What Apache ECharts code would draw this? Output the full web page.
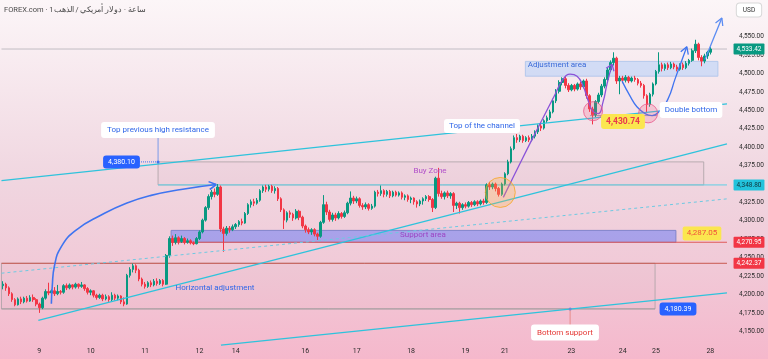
<!DOCTYPE html>
<html><head><meta charset="utf-8">
<script src="https://cdn.jsdelivr.net/npm/echarts@6/dist/echarts.min.js"></script>
<style>
html,body{margin:0;padding:0;}
#c{width:768px;height:359px;background:linear-gradient(to bottom,#fcf6f8 0%,#f6e6ec 25%,#f0d6e0 50%,#f1c9d7 75%,#f5b8cc 100%);}
</style>
</head><body><div id="c"></div>
<script>
// ---- data ----
const dayLabels = ['9','10','11','12','14','16','17','18','19','21','23','24','25','28'];
const dayLabelIdx = [12,29,47,65,77,100,117,135,153,166,188,205,216,234];
const slotCount = 240;
// [open, close, low, high]
const candles = [
[4212,4214,4207,4218],[4214,4209,4205,4216],[4209,4201,4198,4211],[4201,4193,4190,4203],[4193,4186,4184,4195],
[4186,4194,4185,4196],[4194,4190,4187,4197],[4190,4195,4188,4197],[4195,4191,4189,4198],[4191,4196,4190,4199],
[4196,4193,4190,4200],[4193,4187,4184,4195],[4187,4182,4175,4189],[4182,4195,4180,4197],[4195,4204,4193,4207],
[4204,4202,4199,4216],[4202,4205,4199,4207],[4205,4201,4198,4210],[4201,4204,4199,4213],[4204,4203,4200,4206],
[4203,4212,4201,4214],[4212,4209,4206,4215],[4209,4213,4207,4215],[4213,4210,4207,4214],[4210,4214,4208,4216],
[4214,4211,4208,4215],[4211,4213,4209,4217],[4213,4208,4205,4214],[4208,4203,4200,4210],[4203,4205,4199,4207],
[4205,4199,4196,4206],[4199,4196,4193,4201],[4196,4199,4194,4201],[4199,4194,4191,4201],[4194,4197,4192,4200],
[4197,4193,4190,4199],[4193,4199,4191,4203],[4199,4195,4192,4201],[4195,4198,4192,4200],[4198,4190,4187,4199],
[4190,4187,4184,4196],[4187,4226,4186,4228],[4226,4234,4223,4237],[4234,4239,4230,4242],[4239,4233,4229,4241],
[4233,4221,4218,4235],[4221,4214,4211,4223],[4214,4211,4208,4217],[4211,4216,4209,4218],[4216,4213,4210,4219],
[4213,4218,4211,4221],[4218,4215,4212,4222],[4215,4219,4213,4221],[4219,4214,4211,4221],[4214,4253,4213,4255],
[4253,4276,4250,4279],[4276,4271,4266,4280],[4271,4277,4268,4282],[4277,4272,4268,4279],[4272,4276,4270,4280],
[4276,4271,4268,4278],[4271,4273,4269,4276],[4273,4270,4268,4275],[4270,4269,4267,4272],[4269,4276,4268,4278],
[4276,4285,4274,4287],[4285,4301,4283,4303],[4301,4318,4299,4320],[4318,4333,4315,4336],[4333,4339,4329,4342],
[4339,4336,4332,4344],[4336,4346,4334,4350],[4346,4289,4285,4348],[4289,4283,4258,4292],[4283,4290,4280,4293],
[4290,4288,4284,4293],[4288,4292,4286,4295],[4292,4295,4289,4297],[4295,4299,4292,4301],[4299,4297,4294,4303],
[4297,4310,4296,4312],[4310,4322,4308,4324],[4322,4326,4318,4329],[4326,4324,4320,4330],[4324,4328,4322,4331],
[4328,4341,4326,4343],[4341,4346,4338,4348],[4346,4343,4339,4349],[4343,4347,4340,4349],[4347,4341,4338,4349],
[4341,4344,4337,4347],[4344,4330,4327,4346],[4330,4315,4312,4332],[4315,4301,4289,4317],[4301,4311,4298,4313],
[4311,4309,4304,4314],[4309,4304,4300,4311],[4304,4313,4302,4316],[4313,4305,4301,4315],[4305,4293,4290,4307],
[4293,4288,4284,4295],[4288,4285,4282,4291],[4285,4288,4281,4290],[4288,4282,4279,4290],[4282,4279,4274,4284],
[4279,4298,4277,4300],[4298,4322,4296,4335],[4322,4312,4308,4326],[4312,4302,4299,4315],[4302,4308,4299,4311],
[4308,4304,4300,4311],[4304,4310,4302,4313],[4310,4306,4303,4312],[4306,4311,4304,4314],[4311,4324,4309,4326],
[4324,4331,4321,4340],[4331,4327,4323,4334],[4327,4330,4324,4333],[4330,4321,4318,4332],[4321,4319,4315,4324],
[4319,4322,4316,4325],[4322,4317,4314,4324],[4317,4320,4315,4323],[4320,4339,4318,4341],[4339,4337,4333,4342],
[4337,4341,4334,4348],[4341,4336,4332,4343],[4336,4340,4333,4342],[4340,4334,4331,4342],[4334,4339,4332,4341],
[4339,4335,4333,4341],[4335,4338,4333,4340],[4338,4332,4329,4340],[4332,4334,4328,4336],[4334,4329,4326,4336],
[4329,4331,4324,4333],[4331,4326,4322,4332],[4326,4323,4318,4328],[4323,4327,4320,4329],[4327,4330,4322,4332],
[4330,4333,4327,4335],[4333,4329,4326,4335],[4329,4318,4312,4331],[4318,4358,4316,4360],[4358,4337,4333,4372],
[4337,4333,4330,4341],[4333,4338,4329,4340],[4338,4334,4331,4341],[4334,4337,4330,4339],[4337,4321,4312,4339],
[4321,4324,4316,4326],[4324,4318,4310,4326],[4318,4322,4315,4324],[4322,4320,4317,4325],[4320,4325,4318,4327],
[4325,4322,4319,4327],[4322,4326,4320,4328],[4326,4323,4320,4328],[4323,4327,4321,4329],[4327,4325,4322,4330],
[4325,4349,4323,4351],[4349,4346,4342,4353],[4346,4350,4343,4352],[4350,4344,4340,4352],[4344,4336,4333,4346],
[4336,4350,4334,4352],[4350,4364,4348,4366],[4364,4380,4362,4383],[4380,4398,4378,4401],[4398,4413,4396,4416],
[4413,4410,4406,4418],[4410,4415,4407,4417],[4415,4409,4406,4417],[4409,4413,4407,4415],[4413,4410,4407,4416],
[4410,4415,4408,4418],[4415,4421,4412,4423],[4421,4429,4418,4431],[4429,4426,4422,4433],[4426,4436,4424,4438],
[4436,4440,4433,4443],[4440,4448,4437,4451],[4448,4463,4446,4466],[4463,4476,4460,4479],[4476,4488,4473,4491],
[4488,4493,4484,4495],[4493,4484,4480,4496],[4484,4478,4475,4487],[4478,4484,4476,4486],[4484,4479,4476,4486],
[4479,4486,4477,4488],[4486,4482,4478,4489],[4482,4490,4480,4492],[4490,4470,4466,4493],[4470,4452,4448,4472],
[4452,4444,4431,4455],[4444,4462,4441,4464],[4462,4471,4459,4474],[4471,4483,4468,4486],[4483,4492,4480,4495],
[4492,4505,4489,4508],[4505,4515,4502,4518],[4515,4521,4511,4529],[4521,4490,4486,4523],[4490,4494,4472,4497],
[4494,4491,4487,4497],[4491,4495,4488,4498],[4495,4490,4487,4497],[4490,4494,4488,4496],[4494,4492,4489,4497],
[4492,4487,4484,4494],[4487,4484,4481,4490],[4484,4470,4466,4486],[4470,4458,4447,4472],[4458,4472,4455,4474],
[4472,4486,4469,4488],[4486,4503,4484,4505],[4503,4512,4500,4529],[4512,4507,4503,4515],[4507,4512,4504,4514],
[4512,4508,4505,4515],[4508,4513,4506,4516],[4513,4509,4506,4515],[4509,4506,4503,4512],[4506,4512,4504,4514],
[4512,4508,4505,4515],[4508,4514,4506,4517],[4514,4518,4511,4520],[4518,4531,4516,4534],[4531,4540,4528,4546],
[4540,4522,4518,4542],[4522,4517,4510,4525],[4517,4524,4514,4527],[4524,4529,4520,4531],[4529,4533.42,4526,4536]
];
const priceMin = 4125, priceMax = 4600, priceStep = 25;
// key levels
const lastPrice = 4533.42;
const resistanceTop = 4380.10, resistanceBottom = 4348.80;
const supportTop = 4287.05, supportBottom = 4270.95;
const rangeTop = 4242.37, rangeBottom = 4180.39;
const adjustTop = 4516.6, adjustBottom = 4496.5;
const bottomLow = 4430.74;
// drawn lines in [slot, price]
const channelUpper = [[0,4354.7],[240,4459.0]];
const channelMid = [[12.2,4164.7],[240,4404.7]];
const channelLow = [[72.6,4131.3],[240,4202.2]];
const channelDashed = [[0,4228.9],[240,4329.9]];
const arcBlue1 = [[16.5,4187.5],[16.8,4211.5],[17.5,4238.3],[19.8,4265.1],[24.8,4287.8],[33.0,4307.9],[41.3,4323.9],[49.5,4334.6],[59.4,4342.6],[71.0,4349.3]];
const arcBlue1Head = [[68.9,4342.6],[71.0,4349.3],[68.5,4353.3]];
const arcPurple = [[166.0,4331.9],[171.6,4378.7],[178.2,4432.3],[183.2,4472.4],[185.8,4492.5],[188.1,4499.2],[190.4,4496.5],[192.4,4483.1],[194.1,4463.0],[195.7,4448.3],[197.4,4445.7],[199.0,4461.7],[200.3,4485.8],[202.0,4512.5]];
const arcPurpleHead = [[200.0,4507.2],[202.0,4512.5],[202.6,4503.2]];
const arcBlue2 = [[205.3,4489.8],[207.9,4469.7],[210.2,4455.0],[212.9,4445.7],[215.2,4443.0],[217.8,4449.7],[220.5,4465.7],[222.8,4492.5],[224.8,4515.2],[226.7,4536.6]];
const arcBlue2Head = [[224.7,4529.7],[226.7,4536.6],[227.2,4525.9]];
const arrowUp = [[232.7,4519.2],[238.3,4575.4]];
const arrowUpHead = [[236.2,4568.7],[238.3,4575.4],[238.6,4564.7]];
const orangeCircle = [[165.0,4338.6]];
const pinkCircles = [[195.7,4449],[213.9,4446]];
const neckline = [[194.7,4443],[216.8,4443]];

// ---- chart ----
const FONT = 'Roboto, "Liberation Sans", sans-serif';
const cats = Array.from({length: slotCount}, (_, i) => { const k = dayLabelIdx.indexOf(i); return k >= 0 ? dayLabels[k] : ''; });
const chart = echarts.init(document.getElementById('c'), null, {renderer:'canvas', width:768, height:359});

function lineS(data, color, width, type, smooth, z){
  return {type:'line', xAxisIndex:1, yAxisIndex:0, data, symbol:'none', smooth: !!smooth, silent:true, z: z||4,
    lineStyle:{color, width, type: type||'solid'}, animation:false};
}
function area(x1,p1,x2,p2,fill,border){
  return [{xAxis:x1, yAxis:p1, itemStyle:{color:fill, borderColor:border, borderWidth:1}},{xAxis:x2, yAxis:p2}];
}
const fmt = v => v.toLocaleString('en-US',{minimumFractionDigits:2, maximumFractionDigits:2});

const option = {
  animation:false,
  backgroundColor:'transparent',
  grid:{left:0, right:41, top:-5.4, bottom:9.3, containLabel:false},
  xAxis:[
    {type:'category', data:cats, boundaryGap:true, axisLine:{show:false}, axisTick:{show:false}, splitLine:{show:false},
     axisLabel:{interval:0, color:'#2a2a2a', fontSize:7, fontFamily:FONT, margin:-2}},
    {type:'value', min:0, max:slotCount, show:false}
  ],
  yAxis:[{type:'value', position:'right', min:priceMin, max:priceMax, interval:priceStep, scale:true,
    axisLine:{show:false}, axisTick:{show:false}, splitLine:{show:false},
    axisLabel:{color:'#2a2a2a', fontSize:6.5, fontFamily:FONT, margin:12,
      formatter: v => (v>=4150 && v<=4550) ? fmt(v) : ''}}],
  series:[
    {type:'line', xAxisIndex:1, yAxisIndex:0, data:[], z:1, silent:true,
     markArea:{silent:true, data:[
       area(51.8,resistanceBottom,232.3,resistanceTop,'rgba(215,170,185,0.1)','rgba(170,160,165,0.8)'),
       area(0,rangeBottom,216.2,rangeTop,'rgba(210,160,180,0.08)','rgba(170,160,165,0.8)'),
       area(56.1,supportBottom,223.1,supportTop,'rgba(110,125,245,0.55)','rgba(120,125,200,0.9)'),
       area(173.3,adjustBottom,237,adjustTop,'rgba(185,210,248,0.6)','rgba(170,195,235,0.8)')
     ]}},
    lineS([[0,lastPrice],[240,lastPrice]],'rgba(150,150,160,0.55)',1,'solid',false,2),
    lineS([[51.8,resistanceBottom],[240,resistanceBottom]],'#5fd0e6',1,'solid',false,2),
    lineS([[56.1,supportBottom],[240,supportBottom]],'#e05a5a',1,'solid',false,2),
    lineS([[0,rangeTop],[240,rangeTop]],'#c8584f',1,'solid',false,2),
    lineS([[0,rangeBottom],[216.2,rangeBottom]],'rgba(150,150,150,0.7)',1,'solid',false,2),
    lineS(neckline,'rgba(140,140,150,0.8)',1,'solid',false,2),
    {type:'candlestick', xAxisIndex:0, yAxisIndex:0, data:candles, barWidth:'68%', z:3, silent:true,
     itemStyle:{color:'#089981', color0:'#f23645', borderColor:'#089981', borderColor0:'#f23645', borderWidth:1}},
    lineS(channelUpper,'#2ec3dc',1.3),
    lineS(channelMid,'#2ec3dc',1.3),
    lineS(channelLow,'#2ec3dc',1.3),
    lineS(channelDashed,'#6cc9e2',1,[3,3]),
    lineS(arcBlue1,'#3f74f0',1.6,'solid',true),
    lineS(arcBlue1Head,'#3f74f0',1.6),
    lineS(arcPurple,'#8a52d8',1.3,'solid',true),
    lineS(arcPurpleHead,'#8a52d8',1.3),
    lineS(arcBlue2,'#3f74f0',1.3,'solid',true),
    lineS(arcBlue2Head,'#3f74f0',1.3),
    lineS(arrowUp,'#5b8cf2',1.3),
    lineS(arrowUpHead,'#5b8cf2',1.3),
    {type:'scatter', xAxisIndex:1, yAxisIndex:0, data:orangeCircle, symbol:'circle', symbolSize:30, z:5, silent:true,
     itemStyle:{color:'rgba(255,175,70,0.35)', borderColor:'#f5a623', borderWidth:1}},
    {type:'scatter', xAxisIndex:1, yAxisIndex:0, data:pinkCircles, symbol:'circle', symbolSize:19, z:5, silent:true,
     itemStyle:{color:'rgba(240,90,130,0.28)', borderColor:'#e8578a', borderWidth:1}}
  ]
};
chart.setOption(option);

// ---- annotations (text) ----
const BLUE = '#2f66e8';
function label(text, x, y, opt){
  opt = opt || {};
  return {type:'text', x, y, z:50, silent:true, style:{
    text, fill: opt.color || BLUE, font: (opt.weight||'normal')+' '+(opt.size||8)+'px '+FONT,
    align: opt.align || 'center', verticalAlign:'middle',
    backgroundColor: opt.bg, padding: opt.pad, borderRadius: opt.r, borderColor: opt.bc, borderWidth: opt.bc?1:0
  }};
}
const py = p => chart.convertToPixel({yAxisIndex:0}, p);
const px = v => chart.convertToPixel({xAxisIndex:1}, v);
const graphics = [];
graphics.push({type:'line', z:40, silent:true, shape:{x1:px(51.8), y1:138, x2:px(51.8), y2:py(resistanceTop)}, style:{stroke:'#7a9ae8', lineWidth:1}});
graphics.push({type:'circle', z:41, silent:true, shape:{cx:px(51.8), cy:py(resistanceTop), r:1.5}, style:{fill:'#3f74f0'}});
graphics.push({type:'line', z:40, silent:true, shape:{x1:139, y1:py(resistanceTop), x2:px(51.8), y2:py(resistanceTop)}, style:{stroke:'#3f74f0', lineWidth:1, lineDash:[1,1]}});
graphics.push({type:'line', z:40, silent:true, shape:{x1:px(188.1), y1:325, x2:px(188.1), y2:py(rangeBottom)}, style:{stroke:'#e88a8a', lineWidth:1}});
graphics.push({type:'circle', z:41, silent:true, shape:{cx:px(188.1), cy:py(rangeBottom), r:1.5}, style:{fill:'#6a8ad8'}});
graphics.push(label('FOREX.com · 1ساعة · دولار أمريكي / الذهب', 4, 10, {color:'#4a4a4a', size:7.5, align:'left'}));
graphics.push(label('Top previous high resistance', 158, 130, {bg:'#ffffff', pad:[4,6], r:3}));
graphics.push(label(fmt(resistanceTop), 121.5, py(resistanceTop), {bg:'#2962ff', color:'#ffffff', pad:[3,5], r:3, size:7}));
graphics.push(label('Top of the channel', 482, 126, {bg:'#ffffff', pad:[3,5], r:3}));
graphics.push(label('Double bottom', 691, 110, {bg:'#ffffff', pad:[4,5], r:3}));
graphics.push(label(fmt(bottomLow), 623, 121.5, {bg:'#fbe64f', color:'#e8384f', pad:[3,5], r:3, size:8.5, weight:'bold'}));
graphics.push(label(fmt(supportTop), 702, py(supportTop)+3, {bg:'#fbe64f', color:'#f0503c', pad:[3,4], r:2, size:8}));
graphics.push(label('Bottom support', 565, 332.5, {bg:'#ffffff', color:'#e53935', pad:[4,6], r:3}));
graphics.push(label(fmt(rangeBottom), 678, 309, {bg:'#2962ff', color:'#ffffff', pad:[3,5], r:3, size:7}));
graphics.push(label('Buy Zone', 430, 171, {color:'#b04fc9'}));
graphics.push(label('Support area', 423, 235, {color:'#9c44c4'}));
graphics.push(label('Horizontal adjustment', 215, 288, {color:BLUE}));
graphics.push(label('Adjustment area', 557, 65, {color:'#3a6ad8'}));
graphics.push(label('USD', 749, 10, {color:'#333', size:6.5, bg:'#ffffff', pad:[3,6], r:3, bc:'#d8d8d8'}));
const tags = [
  {p:lastPrice, bg:'#089981', fg:'#ffffff'},
  {p:resistanceBottom, bg:'#22c3dc', fg:'#10333a'},
  {p:supportBottom, bg:'#f23645', fg:'#ffffff'},
  {p:rangeTop, bg:'#f23645', fg:'#ffffff'}
];
tags.forEach(t => {
  graphics.push(label(fmt(t.p), 749, py(t.p), {bg:t.bg, color:t.fg, pad:[2,3], r:1, size:6.5}));
});
chart.setOption({graphic: graphics});
</script>
</body></html>
